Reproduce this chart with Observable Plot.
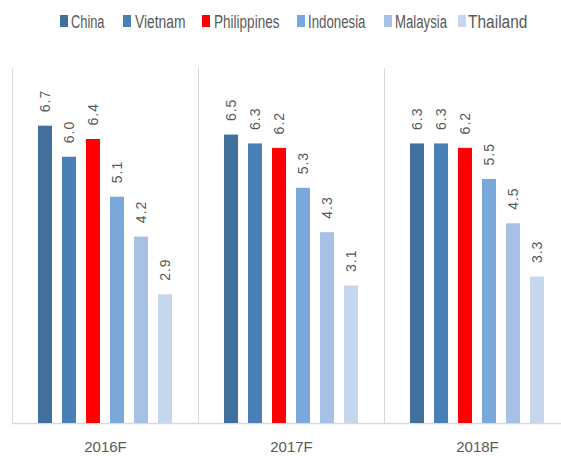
<!DOCTYPE html>
<html>
<head>
<meta charset="utf-8">
<script src="https://cdn.jsdelivr.net/npm/d3@7"></script>
<script src="https://cdn.jsdelivr.net/npm/@observablehq/plot@0.6"></script>
<style>
  html, body { margin: 0; padding: 0; background: #fff; }
  #wrap { width: 561px; height: 456px; overflow: hidden; }
  #legend { position: relative; height: 40px;
    font-family: "Liberation Sans Narrow", "Liberation Sans", Arial, sans-serif; font-size: 18px; color: #595959; }
  .sw { position: absolute; top: 15px; width: 8px; height: 12px; }
  .lt { position: absolute; top: 11.5px; line-height: 20px; white-space: nowrap; transform-origin: 0 50%; }
</style>
</head>
<body>
<div id="wrap">
  <div id="legend"></div>
  <div id="chart"></div>
</div>
<script>
const years = ["2016F", "2017F", "2018F"];
const countries = ["China", "Vietnam", "Philippines", "Indonesia", "Malaysia", "Thailand"];
const colors = ["#41709C", "#4A7FB6", "#FF0000", "#7BA8DA", "#A6C1E4", "#C6D6EC"];
const china = [6.7, 6.5, 6.3];
const vietnam = [6.0, 6.3, 6.3];
const philippines = [6.4, 6.2, 6.2];
const indonesia = [5.1, 5.3, 5.5];
const malaysia = [4.2, 4.3, 4.5];
const thailand = [2.9, 3.1, 3.3];

const series = [china, vietnam, philippines, indonesia, malaysia, thailand];
const data = [];
years.forEach((yr, i) => countries.forEach((c, j) => data.push({year: yr, country: c, value: series[j][i]})));

// legend layout (positions only)
const swatchX = [60, 122.5, 202, 296.5, 384, 458];
const textX = [71, 134.5, 213.5, 308, 395, 467.5];
const textW = [33.5, 50.5, 65.5, 57.5, 52, 59.5];
const legend = document.getElementById("legend");
countries.forEach((c, j) => {
  const sw = document.createElement("span");
  sw.className = "sw";
  sw.style.left = swatchX[j] + "px";
  sw.style.background = colors[j];
  legend.appendChild(sw);
  const t = document.createElement("span");
  t.className = "lt";
  t.style.left = textX[j] + "px";
  t.textContent = c;
  legend.appendChild(t);
  const w = t.getBoundingClientRect().width;
  t.style.transform = `scaleX(${textW[j] / w})`;
});

const chart = Plot.plot({
  width: 561,
  height: 416,
  marginTop: 28,
  marginBottom: 33,
  marginLeft: 12,
  marginRight: 0,
  style: {fontFamily: "'Liberation Sans', Arial, sans-serif", fontSize: "15px", color: "#595959", background: "#fff"},
  fx: {domain: years, range: [12, 570], padding: 0, label: null, axis: "bottom", tickSize: 0, tickPadding: 18},
  x: {domain: countries, paddingInner: 0.42, paddingOuter: 1.08, axis: null},
  y: {domain: [0, 8], axis: null},
  color: {domain: countries, range: colors},
  marks: [
    Plot.ruleY([0], {stroke: "#d9d9d9", strokeWidth: 1.5}),
    Plot.barY(data, {fx: "year", x: "country", y: "value", fill: "country"}),
    Plot.text(data, {fx: "year", x: "country", y: "value", text: d => d.value.toFixed(1), rotate: -90, textAnchor: "start", dy: -14, fill: "#595959", fontSize: 14, style: "letter-spacing:1px"})
  ]
});
document.getElementById("chart").appendChild(chart);
d3.select(chart).selectAll("text").filter(function() { return /^\d\.\d$/.test(this.textContent); }).style("letter-spacing", "1px");

const fx = chart.scale("fx");
const y = chart.scale("y");
const lastEnd = fx.apply(years[years.length - 1]) + fx.bandwidth;
const sepX = years.map(d => fx.apply(d)).concat([lastEnd]);
d3.select(chart).append("g")
  .selectAll("line").data(sepX).join("line")
  .attr("x1", d => d + 0.5)
  .attr("x2", d => d + 0.5)
  .attr("y1", y.apply(8))
  .attr("y2", y.apply(0))
  .attr("stroke", "#d9d9d9");
</script>
</body>
</html>
